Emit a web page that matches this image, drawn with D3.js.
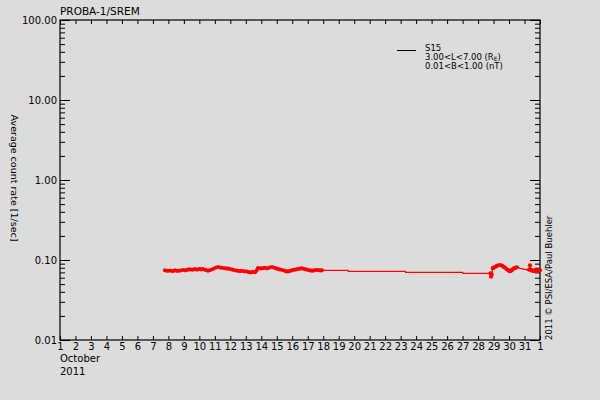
<!DOCTYPE html>
<html>
<head>
<meta charset="utf-8">
<script src="https://cdn.jsdelivr.net/npm/d3@7"></script>
<style>
  body { margin: 0; background: #dcdcdc; }
  svg { display: block; font-family: "DejaVu Sans", sans-serif; }
</style>
</head>
<body>
<svg id="chart" width="600" height="400"></svg>
<script>
// dense samples (drawn with markers): [day of October, count rate]
const denseA = [
  [7.78,0.0743],[7.95,0.0732],[8.10,0.0738],[8.27,0.0728],[8.43,0.0740],[8.59,0.0731],
  [8.75,0.0737],[8.94,0.0750],[9.10,0.0742],[9.25,0.0758],[9.40,0.0765],[9.55,0.0755],
  [9.70,0.0768],[9.85,0.0760],[10.00,0.0770],[10.12,0.0762],[10.24,0.0767],[10.40,0.0752],
  [10.56,0.0735],[10.72,0.0750],[10.88,0.0772],[11.04,0.0800],[11.20,0.0818],[11.36,0.0805],
  [11.53,0.0794],[11.70,0.0788],[11.85,0.0780],[11.98,0.0772],[12.13,0.0760],[12.28,0.0745],
  [12.43,0.0735],[12.60,0.0728],[12.75,0.0730],[12.92,0.0722],[13.08,0.0716],[13.20,0.0708],
  [13.30,0.0700],[13.45,0.0712],[13.59,0.0703],[13.70,0.0740],[13.79,0.0794],[13.95,0.0785],
  [14.11,0.0790],[14.24,0.0800],[14.37,0.0787],[14.53,0.0805],[14.69,0.0818],[14.85,0.0800],
  [15.01,0.0778],[15.17,0.0765],[15.34,0.0750],[15.50,0.0735],[15.62,0.0722],[15.72,0.0718],
  [15.86,0.0730],[16.02,0.0748],[16.18,0.0757],[16.33,0.0770],[16.48,0.0780],[16.63,0.0787],
  [16.79,0.0770],[16.95,0.0757],[17.10,0.0745],[17.22,0.0738],[17.34,0.0735],[17.50,0.0748],
  [17.66,0.0750],[17.80,0.0740],[17.92,0.0743]
];
const denseB = [
  [28.80,0.0682],[28.84,0.0618],[28.88,0.0660],[28.95,0.0790],[29.02,0.0805],[29.09,0.0812],
  [29.20,0.0840],[29.30,0.0860],[29.42,0.0866],[29.55,0.0850],[29.65,0.0820],[29.74,0.0800],
  [29.84,0.0770],[29.93,0.0750],[30.00,0.0735],[30.06,0.0724],[30.13,0.0735],[30.19,0.0750],
  [30.26,0.0770],[30.32,0.0787],[30.42,0.0800],[30.51,0.0812]
];
const denseC = [
  [31.30,0.0760],[31.35,0.0860],[31.40,0.0760],[31.48,0.0735],[31.55,0.0745],[31.62,0.0728],
  [31.70,0.0740],[31.78,0.0732],[31.87,0.0745],[31.95,0.0738],[32.00,0.0742]
];
// sparse samples (line only)
const sparse = [
  [19.60,0.0743],[19.62,0.0722],[23.30,0.0722],[23.32,0.0702],[27.00,0.0702],[27.02,0.0682],
  [30.71,0.0787],[31.22,0.0750]
];

const dayTicks = d3.range(1, 33);
const decadeTicks = [0.01, 0.1, 1, 10, 100];
const minorTicks = [];
[0.01, 0.1, 1, 10].forEach(d => { for (let k = 2; k <= 9; k++) minorTicks.push(d * k); });

const legendLines = ["S15", "3.00<L<7.00 (R", "0.01<B<1.00 (nT)"];

const svg = d3.select("#chart");
const W = 600, H = 400;
const m = {left: 60, right: 60, top: 20, bottom: 60};

svg.append("rect").attr("width", W).attr("height", H).attr("fill", "#dcdcdc");

const x = d3.scaleLinear().domain([1, 32]).range([m.left, W - m.right]);
const y = d3.scaleLog().domain([0.01, 100]).range([H - m.bottom, m.top]);

// frame
svg.append("rect")
    .attr("x", m.left).attr("y", m.top)
    .attr("width", W - m.left - m.right).attr("height", H - m.top - m.bottom)
    .attr("fill", "none").attr("stroke", "#000").attr("stroke-width", 1.2);

function styleAxis(g) {
  g.select(".domain").remove();
  g.selectAll("line").attr("stroke", "#000");
  g.selectAll("text").attr("fill", "#000");
}

// bottom and top axes
svg.append("g")
    .attr("transform", `translate(0,${H - m.bottom})`)
    .call(d3.axisBottom(x).tickValues(dayTicks).tickSize(-4).tickPadding(3)
      .tickFormat(d => d > 31 ? "1" : String(d)))
    .attr("font-size", 10).attr("font-family", null)
    .call(styleAxis);

svg.append("g")
    .attr("transform", `translate(0,${m.top})`)
    .call(d3.axisTop(x).tickValues(dayTicks).tickSize(-4).tickFormat(""))
    .call(styleAxis);

// left axis
svg.append("g")
    .attr("transform", `translate(${m.left},0)`)
    .call(d3.axisLeft(y).tickValues(decadeTicks).tickSize(-10).tickPadding(3)
      .tickFormat(d3.format(".2f")))
    .attr("font-size", 10).attr("font-family", null)
    .call(styleAxis);
svg.append("g")
    .attr("transform", `translate(${m.left},0)`)
    .call(d3.axisLeft(y).tickValues(minorTicks).tickSize(-5).tickFormat(""))
    .call(styleAxis);

// right axis
svg.append("g")
    .attr("transform", `translate(${W - m.right},0)`)
    .call(d3.axisRight(y).tickValues(decadeTicks).tickSize(-10).tickFormat(""))
    .call(styleAxis);
svg.append("g")
    .attr("transform", `translate(${W - m.right},0)`)
    .call(d3.axisRight(y).tickValues(minorTicks).tickSize(-5).tickFormat(""))
    .call(styleAxis);

// data
const all = denseA.concat(denseB, denseC, sparse).sort((a, b) => a[0] - b[0]);
const line = d3.line().x(d => x(d[0])).y(d => y(d[1]));

const plot = svg.append("g");
plot.append("path")
    .datum(all)
    .attr("d", line)
    .attr("fill", "none").attr("stroke", "#ff0000").attr("stroke-width", 1.3);

plot.selectAll("circle")
  .data(denseA.concat(denseB, denseC))
  .join("circle")
    .attr("cx", d => x(d[0])).attr("cy", d => y(d[1]))
    .attr("r", 2.1).attr("fill", "#ff0000");

// title
svg.append("text").attr("x", 60).attr("y", 15)
    .attr("font-size", 10.5).text("PROBA-1/SREM");

// y axis title
svg.append("text")
    .attr("transform", `translate(11,${(m.top + H - m.bottom) / 2 - 2}) rotate(90)`)
    .attr("text-anchor", "middle").attr("font-size", 9.5)
    .text("Average count rate [1/sec]");

// copyright
svg.append("text")
    .attr("transform", `translate(552,${H - m.bottom}) rotate(-90)`)
    .attr("font-size", 8.5)
    .text("2011 \u00a9 PSI/ESA/Paul Buehler");

// month / year
svg.append("text").attr("x", 60).attr("y", 362).attr("font-size", 10).text("October");
svg.append("text").attr("x", 60).attr("y", 375).attr("font-size", 10).text("2011");

// legend
const lg = svg.append("g").attr("font-size", 8.5);
lg.append("line").attr("x1", 397).attr("x2", 416).attr("y1", 50.5).attr("y2", 50.5)
    .attr("stroke", "#000").attr("stroke-width", 1);
legendLines.forEach((t, i) => {
  const tx = lg.append("text").attr("x", 425).attr("y", 51 + i * 9).text(t);
  if (i === 1) {
    tx.append("tspan").attr("font-size", 6).attr("dy", 1).text("E");
    tx.append("tspan").attr("dy", -1).text(")");
  }
});
</script>
</body>
</html>
